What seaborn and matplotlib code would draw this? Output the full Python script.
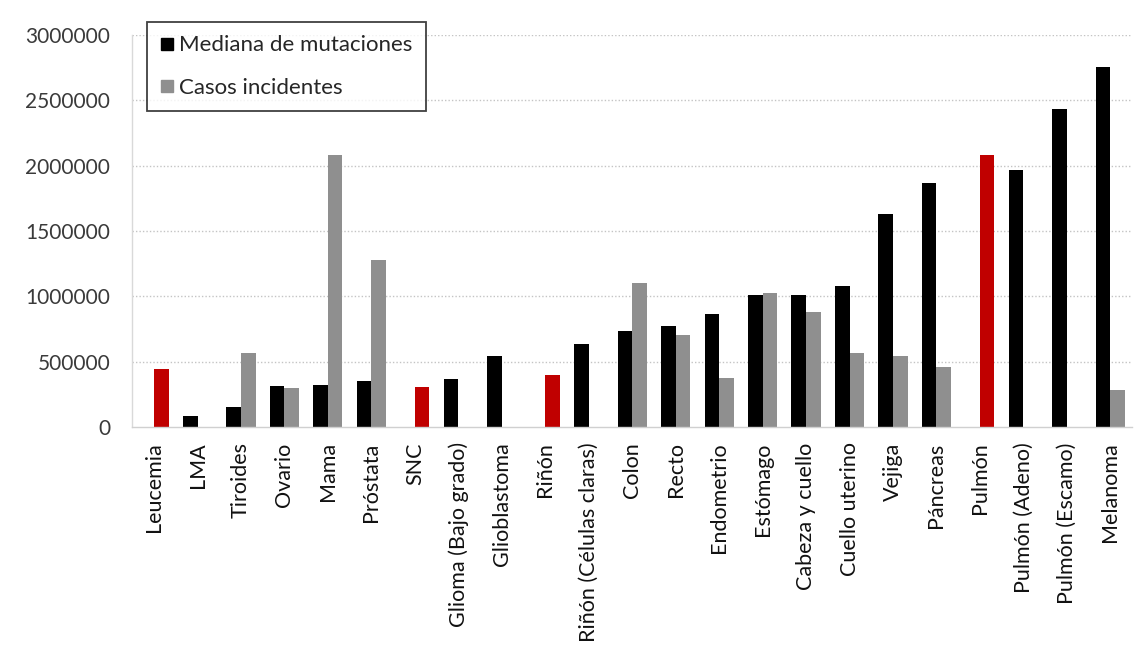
import numpy as np
import pandas as pd
import matplotlib.pyplot as plt
from matplotlib.lines import Line2D
import seaborn as sns


# =========================
# datos
# =========================
tumores = [
    "Leucemia", "LMA", "Tiroides", "Ovario", "Mama", "Próstata", "SNC",
    "Glioma (Bajo grado)", "Glioblastoma", "Riñón", "Riñón (Células claras)",
    "Colon", "Recto", "Endometrio", "Estómago", "Cabeza y cuello",
    "Cuello uterino", "Vejiga", "Páncreas", "Pulmón", "Pulmón (Adeno)",
    "Pulmón (Escamo)", "Melanoma",
]

# mediana de mutaciones (barras negras)
mutaciones = [
    np.nan, 85000, 155000, 315000, 325000, 352000, np.nan,
    365000, 545000, np.nan, 633000,
    735000, 775000, 865000, 1010000, 1010000,
    1080000, 1628000, 1865000, np.nan, 1967000,
    2431000, 2752000,
]

# casos incidentes (barras grises)
casos = [
    np.nan, np.nan, 570000, 296000, 2085000, 1278000, np.nan,
    np.nan, np.nan, np.nan, np.nan,
    1100000, 704000, 377000, 1023000, 878000,
    569000, 546000, 457000, np.nan, np.nan,
    np.nan, 283000,
]

# barras rojas (tumores resaltados)
resaltados = {
    "Leucemia": 441000,
    "SNC": 308000,
    "Riñón": 400000,
    "Pulmón": 2082000,
}

series = ["Mediana de mutaciones", "Casos incidentes"]
colores = {"Mediana de mutaciones": "#000000", "Casos incidentes": "#8f8f8f"}
rojo = "#c00000"


def armar_tabla():
    filas = []
    for t, m, c in zip(tumores, mutaciones, casos):
        if not np.isnan(m):
            filas.append((t, series[0], m))
        if not np.isnan(c):
            filas.append((t, series[1], c))
    base = pd.DataFrame(filas, columns=["Tumor", "Serie", "Valor"])

    # las barras rojas ocupan la segunda posición del grupo
    rojas = pd.DataFrame(
        [(t, series[1], v) for t, v in resaltados.items()],
        columns=["Tumor", "Serie", "Valor"],
    )
    return base, rojas


def graficar():
    base, rojas = armar_tabla()

    sns.set_style("white")
    plt.rcParams["font.family"] = ["Lato", "DejaVu Sans"]

    fig = plt.figure(figsize=(11.36, 6.52), dpi=100)
    ax = fig.add_axes([0.1165, 0.3451, 0.88, 0.6012])

    for y in np.arange(500000, 3000001, 500000):
        ax.axhline(y, color="#c4c4c4", lw=1.0, ls=(0, (1, 1.5)), zorder=0)

    sns.barplot(data=base, x="Tumor", y="Valor", hue="Serie",
                order=tumores, hue_order=series, palette=colores,
                width=0.67, dodge=True, saturation=1, linewidth=0,
                errorbar=None, legend=False, ax=ax)
    sns.barplot(data=rojas, x="Tumor", y="Valor", hue="Serie",
                order=tumores, hue_order=series,
                palette={s: rojo for s in series},
                width=0.67, dodge=True, saturation=1, linewidth=0,
                errorbar=None, legend=False, ax=ax)

    ax.set_xlim(-0.5, len(tumores) - 0.5)
    ax.set_ylim(0, 3000000)
    ax.set_yticks(np.arange(0, 3000001, 500000))
    ax.set_yticklabels([f"{int(v)}" for v in np.arange(0, 3000001, 500000)])
    ax.set_xlabel("")
    ax.set_ylabel("")

    ax.tick_params(axis="y", length=0, pad=16, labelsize=15,
                   labelcolor="#3a3a3a")
    ax.tick_params(axis="x", length=0, pad=11, labelsize=15.5,
                   labelcolor="#111111")
    plt.setp(ax.get_xticklabels(), rotation=90, ha="center")

    for lado in ["top", "right"]:
        ax.spines[lado].set_visible(False)
    ax.spines["left"].set_color("#d9d9d9")
    ax.spines["bottom"].set_color("#d0d0d0")
    ax.spines["left"].set_linewidth(1.0)
    ax.spines["bottom"].set_linewidth(1.0)

    handles = [
        Line2D([], [], marker="s", ls="", markersize=8,
               markerfacecolor=colores[s], markeredgecolor=colores[s])
        for s in series
    ]
    leg = fig.legend(handles, series, loc="upper left",
                     bbox_to_anchor=(147 / 1136, 1 - 22 / 652),
                     frameon=True, fancybox=False, fontsize=16,
                     handlelength=0.6, handletextpad=0.25,
                     labelspacing=1.0, borderpad=0.6, borderaxespad=0)
    leg.get_frame().set_edgecolor("#111111")
    leg.get_frame().set_linewidth(1.3)

    fig.savefig("out.png", dpi=100)


if __name__ == "__main__":
    graficar()
